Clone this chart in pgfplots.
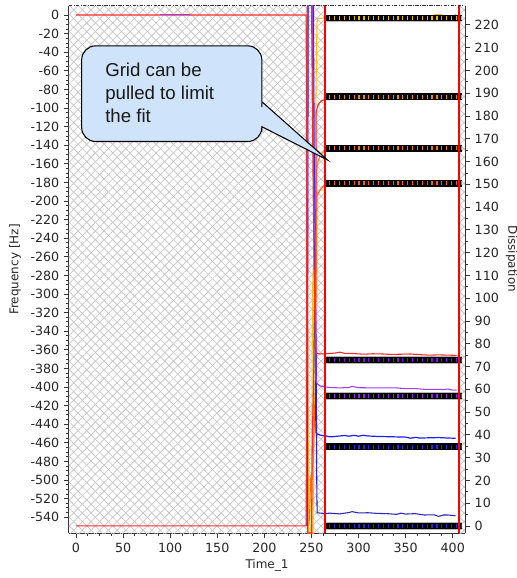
\documentclass[border=0pt]{standalone}
\usepackage{pgfplots}
\pgfplotsset{compat=1.18}
\usepackage{fontspec}
\setmainfont{DejaVu Sans}
\newfontfamily\calloutfont{Liberation Sans}
\usetikzlibrary{patterns.meta}
\definecolor{trRed}{RGB}{255,40,40}
\definecolor{trYellow}{RGB}{255,192,0}
\definecolor{trOrange}{RGB}{255,140,0}
\definecolor{trOrangeB}{RGB}{255,100,0}
\definecolor{trPurple}{RGB}{160,60,255}
\definecolor{trBlue}{RGB}{30,30,255}
\definecolor{trNavy}{RGB}{40,40,190}
\definecolor{gridRed}{RGB}{255,0,0}
\definecolor{calloutFill}{RGB}{207,228,250}
\definecolor{hatchGray}{RGB}{195,195,195}
\definecolor{mkYellow}{RGB}{235,185,0}
\definecolor{mkOrangeA}{RGB}{235,140,0}
\definecolor{mkOrangeB}{RGB}{245,120,0}
\definecolor{mkOrangeC}{RGB}{245,95,0}
\definecolor{mkPurpleA}{RGB}{120,20,210}
\definecolor{mkPurpleB}{RGB}{140,40,230}
\definecolor{mkBlue}{RGB}{40,40,235}
\definecolor{mkNavy}{RGB}{40,40,200}
\newcommand{\fitbar}[2]{%
  \addplot[gray!55, line width=5.6pt] coordinates {(265.7,#1) (409.5,#1)};
  \addplot[black, line width=4.8pt] coordinates {(265.9,#1) (409.3,#1)};
  \addplot[#2, line width=3pt, dash pattern=on 0.9pt off 2.75pt] coordinates {(268.9,#1) (408.5,#1)};
}
\pgfplotsset{
  base/.style={
    scale only axis, width=297pt, height=395.25pt,
    xmin=-7.4, xmax=413,
    tick align=outside, major tick length=3.75pt, minor tick length=2.2pt,
    every tick/.style={black!80, line width=0.6pt},
    axis line style={black!80, line width=0.75pt},
    ticklabel style={font=\fontsize{9.5}{11}\selectfont, text=black!85},
    label style={font=\fontsize{9}{11}\selectfont, text=black!85},
  }
}
\begin{document}
\begin{tikzpicture}
\begin{axis}[base,
  ymin=-557, ymax=9.7,
  axis x line*=bottom, axis y line*=left,
  xtick={0,50,100,150,200,250,300,350,400},
  xticklabels={0,50,100,150,200,250,300,350,400},
  minor x tick num=3,
  ytick={-540,-520,-500,-480,-460,-440,-420,-400,-380,-360,-340,-320,-300,-280,-260,-240,-220,-200,-180,-160,-140,-120,-100,-80,-60,-40,-20,0},
  yticklabels={-540,-520,-500,-480,-460,-440,-420,-400,-380,-360,-340,-320,-300,-280,-260,-240,-220,-200,-180,-160,-140,-120,-100,-80,-60,-40,-20,0},
  minor y tick num=3,
  xlabel={Time\_1},
  xlabel style={at={(axis description cs:0.5,-0.061)}, anchor=center},
  ylabel={Frequency [Hz]},
  ylabel style={at={(axis description cs:-0.136,0.5)}, anchor=center},
]
% hatched (excluded) parts of the grid
\addplot[draw=none, pattern={Lines[angle=45,distance=4.6pt,line width=0.5pt]}, pattern color=hatchGray]
  coordinates {(-7.4,-557) (264.6,-557) (264.6,9.7) (-7.4,9.7)};
\addplot[draw=none, pattern={Lines[angle=-45,distance=4.6pt,line width=0.5pt]}, pattern color=hatchGray]
  coordinates {(-7.4,-557) (264.6,-557) (264.6,9.7) (-7.4,9.7)};
\addplot[draw=none, pattern={Lines[angle=45,distance=4.6pt,line width=0.5pt]}, pattern color=hatchGray]
  coordinates {(406.7,-557) (413,-557) (413,9.7) (406.7,9.7)};
\addplot[draw=none, pattern={Lines[angle=-45,distance=4.6pt,line width=0.5pt]}, pattern color=hatchGray]
  coordinates {(406.7,-557) (413,-557) (413,9.7) (406.7,9.7)};
% frequency traces
\addplot[trOrangeB, line width=0.8pt] coordinates {(245,0) (246,-557) (248,-540) (249,-500) (252,-480) (254,-400) (255.2,-260) (255.7,-195) (258,-190) (261,-186) (264.6,-182) (405,-181)};
\addplot[trOrange, line width=0.8pt] coordinates {(245.3,0) (246.5,-557) (251.5,-557) (252,-400) (253,-330) (254.6,-300) (255,-170) (257,-157) (260,-150) (264.6,-145) (405,-144)};
\addplot[trYellow, line width=0.8pt] coordinates {(244.8,0) (245.6,-300) (246.5,-557) (249.5,-557) (250.5,-450) (251,-300) (253,-240) (254.2,-200) (254.5,-110) (255.3,-45) (255.8,-10) (256.5,-4) (264.6,-3) (300,-3.2) (340,-3) (378,-2.8) (381,0.6) (387,0.6) (390,-3) (400,-2.5) (403,0.5) (405,-3)};
\addplot[trRed, line width=0.8pt] coordinates {(0,0) (244.4,0) (245.2,-350) (246,-557) (250,-557) (251,-450) (252.5,-380) (253.5,-250) (254.8,-200) (255,-105) (256,-100) (258,-95) (261,-92) (264.6,-91) (300,-90) (350,-89) (405,-89)};
\addplot[trPurple, line width=1.1pt] coordinates {(89,0.4) (121,0.4)};
% fitted frequency levels
\fitbar{-3.5}{mkYellow}
\fitbar{-87.8}{mkOrangeA}
\fitbar{-143.4}{mkOrangeB}
\fitbar{-181}{mkOrangeC}
\draw[black!80, line width=0.75pt, dash pattern=on 2.5pt off 1pt on 0.8pt off 1pt] (rel axis cs:0,1) -- (rel axis cs:1,1);
\end{axis}
\begin{axis}[base,
  ymin=-3.1, ymax=228.3,
  axis x line=none, axis y line*=right,
  ytick={0,10,20,30,40,50,60,70,80,90,100,110,120,130,140,150,160,170,180,190,200,210,220},
  yticklabels={0,10,20,30,40,50,60,70,80,90,100,110,120,130,140,150,160,170,180,190,200,210,220},
  minor y tick num=1,
  ylabel={Dissipation},
  ylabel style={at={(axis description cs:1.118,0.52)}, anchor=center, rotate=180},
]
% dissipation traces
\addplot[trNavy, line width=0.8pt] coordinates {(245.6,0) (246.5,235) (252,235) (253,160) (254,100) (255,80) (255.6,20) (256,5.8) (260,5.6) (264.6,5.5) (270,5.6) (280,5.3) (290,5.9) (293,6.3) (300,5.7) (310,5.8) (320,5.5) (330,5.4) (340,5.1) (345,5.6) (350,5.2) (360,5.4) (370,4.8) (380,4.9) (385,4.2) (390,4.8) (395,4.8) (400,4.6) (403,4.5)};
\addplot[trBlue, line width=0.9pt] coordinates {(245.3,0) (246,235) (250.5,235) (251.5,200) (252.5,150) (253.5,100) (254.5,52) (254.8,41) (256,40.4) (260,39.8) (264.6,39.6) (270,39.1) (275,39.3) (285,39.7) (290,39.4) (295,39.8) (300,39.4) (305,39.8) (310,39.5) (320,39.3) (330,39.2) (340,39.1) (350,39.0) (355,38.5) (360,38.9) (365,38.6) (375,38.7) (385,38.8) (395,38.6) (403,38.5)};
\addplot[trPurple, line width=0.8pt] coordinates {(245,0) (245.8,235) (251,235) (252,170) (253,130) (254.3,120) (254.8,64) (256,62.5) (259,61.5) (264.6,61) (270,60.8) (280,60.6) (290,60.8) (293,61.3) (300,60.7) (320,60.6) (340,60.6) (350,60.3) (360,60.3) (370,60.0) (380,60.0) (390,59.9) (395,60.1) (400,59.6) (404,59.6)};
\addplot[trRed, line width=0.8pt] coordinates {(0,0) (244.4,0) (245,120) (245.6,235) (250,235) (251,180) (252,140) (253.5,95) (254.3,80) (255,76) (258,75.5) (264.6,75.6) (275,75.9) (280,76.3) (285,75.8) (295,75.7) (305,75.4) (315,75.6) (325,75.5) (335,75.3) (345,75.4) (355,75.5) (365,75.2) (375,75.0) (385,75.1) (395,75.0) (403,74.9) (405,74.3)};
% fitted dissipation levels
\fitbar{72.9}{mkPurpleA}
\fitbar{57.1}{mkPurpleB}
\fitbar{34.8}{mkBlue}
\fitbar{0}{mkNavy}
% grid limits
\addplot[gridRed, line width=1.1pt] coordinates {(264.6,-3.1) (264.6,228.3)};
\addplot[gridRed, line width=1.1pt] coordinates {(406.7,-3.1) (406.7,228.3)};
% callout
\draw[black, line width=0.8pt, fill=calloutFill, rounded corners=10.5pt]
  (axis cs:100,210.8) -- (axis cs:197.3,210.8) -- (axis cs:197.3,190)
  [sharp corners] -- (axis cs:197.3,186.3) -- (axis cs:267,160.7) -- (axis cs:197.3,175.3) -- (axis cs:197.3,173)
  [rounded corners=10.5pt] -- (axis cs:197.3,168.8) -- (axis cs:6.06,168.8) -- (axis cs:6.06,210.8) -- cycle;
\node[anchor=base west, inner sep=0pt, font=\calloutfont\fontsize{14}{16}\selectfont, text=black!90] at (axis cs:30.8,197.3) {Grid can be};
\node[anchor=base west, inner sep=0pt, font=\calloutfont\fontsize{14}{16}\selectfont, text=black!90] at (axis cs:30.8,187.2) {pulled to limit};
\node[anchor=base west, inner sep=0pt, font=\calloutfont\fontsize{14}{16}\selectfont, text=black!90] at (axis cs:30.8,177.1) {the fit};
\end{axis}
\pgfresetboundingbox
\path[use as bounding box] (-51.75pt,-33.75pt) rectangle (336pt,399.75pt);
\end{tikzpicture}
\end{document}
